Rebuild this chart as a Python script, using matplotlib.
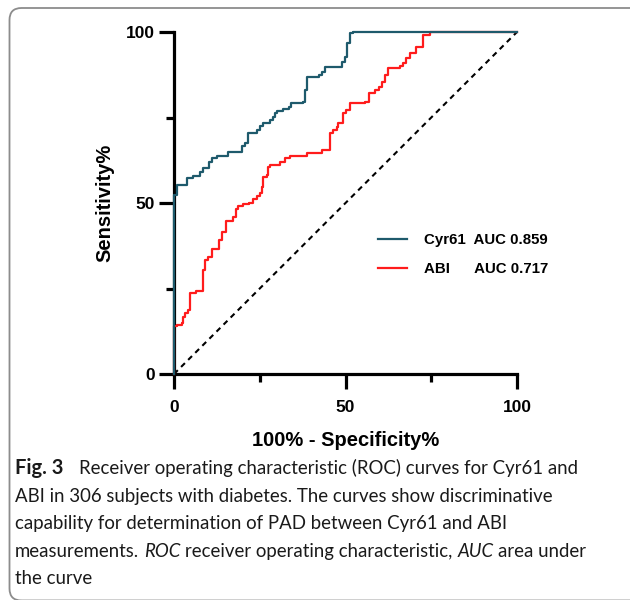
import matplotlib
matplotlib.use("Agg")
import matplotlib.pyplot as plt
from matplotlib.patches import FancyBboxPatch
from matplotlib.ticker import FixedLocator
from matplotlib.transforms import IdentityTransform

# ---------------- data ----------------
cyr61_fpr = [0, 0, 0.8, 3.8, 5.6, 7.6, 8.5, 10.3, 11.0, 12.6, 15.8, 19.7, 20.7, 21.7,
             24.1, 25.1, 25.9, 28.0, 29.0, 29.4, 30.1, 31.9, 33.6, 34.0, 37.7, 38.2,
             38.7, 42.4, 43.1, 44.0, 48.9, 49.9, 50.3, 51.3, 52.3, 100]
cyr61_tpr = [0, 52.3, 55.3, 57.2, 57.9, 59.2, 60.1, 62.1, 63.1, 63.7, 65.0, 66.7, 67.4, 70.4,
             71.3, 72.5, 73.3, 74.3, 75.2, 76.2, 77.0, 77.4, 78.0, 79.1, 79.6, 83.0,
             86.9, 87.4, 88.4, 89.9, 91.3, 92.8, 96.7, 99.6, 100, 100]

abi_fpr = [0, 0, 0.8, 2.2, 2.7, 3.2, 4.2, 4.7, 6.4, 8.5, 9.0, 10.0, 11.0, 13.2, 13.9,
           15.2, 17.3, 18.1, 18.8, 20.0, 22.0, 22.9, 24.1, 25.1, 25.6, 26.0, 27.0, 27.5,
           28.0, 30.9, 32.4, 33.8, 38.7, 43.1, 45.5, 46.4, 47.4, 47.9, 49.4, 50.1, 51.4,
           55.7, 56.9, 58.6, 59.9, 60.6, 61.5, 62.5, 65.9, 66.7, 67.6, 68.8, 70.6, 72.7,
           74.6, 100]
abi_tpr = [0, 14.0, 14.3, 14.8, 16.8, 17.9, 18.7, 23.6, 24.4, 30.4, 33.3, 34.1, 36.5, 39.2, 41.6,
           44.8, 45.8, 48.2, 49.1, 49.6, 50.1, 51.1, 52.0, 53.0, 54.8, 57.7, 58.2, 60.6,
           61.1, 62.1, 63.1, 63.7, 64.5, 65.5, 70.4, 71.3, 72.3, 73.3, 76.2, 77.3, 79.1,
           79.6, 82.3, 83.0, 84.0, 85.5, 87.4, 89.4, 90.0, 91.0, 92.3, 93.8, 95.7, 99.1,
           100, 100]

chance = [0, 100]

series_labels = ["Cyr61  AUC 0.859", "ABI      AUC 0.717"]
major_ticks = [0, 50, 100]
minor_ticks = [25, 75]
x_label = "100% - Specificity%"
y_label = "Sensitivity%"

# (text, weight, style, size scale)
caption_lines = [
    [("Fig. 3", "bold", "normal", 1.08), ("Receiver operating characteristic (ROC) curves for Cyr61 and", "normal", "normal", 1.0)],
    [("ABI in 306 subjects with diabetes. The curves show discriminative", "normal", "normal", 1.0)],
    [("capability for determination of PAD between Cyr61 and ABI", "normal", "normal", 1.0)],
    [("measurements.", "normal", "normal", 1.0), ("ROC", "normal", "italic", 1.0),
     ("receiver operating characteristic,", "normal", "normal", 1.0), ("AUC", "normal", "italic", 1.0),
     ("area under", "normal", "normal", 1.0)],
    [("the curve", "normal", "normal", 1.0)],
]
caption_gaps = [[3.3], [], [], [1, 1, 1, 1], []]

TEAL = "#1e5a6c"
RED = "#ff1c1c"

# ---------------- figure ----------------
W, H, DPI = 630, 600, 100
fig = plt.figure(figsize=(W / DPI, H / DPI), dpi=DPI)
fig.patch.set_facecolor("white")

ax = fig.add_axes([174 / W, 1 - 374 / H, (517 - 174) / W, (374 - 32) / H])
ax.plot(cyr61_fpr, cyr61_tpr, drawstyle="steps-post", color=TEAL, lw=1.6,
        clip_on=False, zorder=4, label=series_labels[0])
ax.plot(abi_fpr, abi_tpr, drawstyle="steps-post", color=RED, lw=1.6,
        clip_on=False, zorder=3, label=series_labels[1])
ax.plot(chance, chance, color="black", lw=1.5, linestyle=(0, (2.6, 2.2)),
        clip_on=False, zorder=2)

ax.set_xlim(0, 100)
ax.set_ylim(0, 100)
for s in ["top", "right"]:
    ax.spines[s].set_visible(False)
for s in ["left", "bottom"]:
    ax.spines[s].set_linewidth(2.3)
    ax.spines[s].set_capstyle("projecting")

ax.xaxis.set_major_locator(FixedLocator(major_ticks))
ax.yaxis.set_major_locator(FixedLocator(major_ticks))
ax.xaxis.set_minor_locator(FixedLocator(minor_ticks))
ax.yaxis.set_minor_locator(FixedLocator(minor_ticks))
ax.tick_params(which="major", direction="out", length=10.5, width=2.3, color="black")
ax.tick_params(which="minor", direction="out", length=5.5, width=2.3, color="black")
ax.tick_params(axis="x", which="major", pad=8.5)
ax.tick_params(axis="y", which="major", pad=3.5)
ax.set_xticklabels([str(t) for t in major_ticks])
ax.set_yticklabels([str(t) for t in major_ticks])
for lab in ax.get_xticklabels() + ax.get_yticklabels():
    lab.set_fontfamily("Liberation Sans")
    lab.set_fontweight("bold")
    lab.set_fontsize(12.5)

ax.set_xlabel(x_label, fontfamily="Liberation Sans", fontweight="bold", fontsize=14.5, labelpad=11)
ax.set_ylabel(y_label, fontfamily="Liberation Sans", fontweight="bold", fontsize=14.5, labelpad=8)

leg = ax.legend(loc="upper left", bbox_to_anchor=(378 / W, 1 - 233 / H),
                bbox_transform=fig.transFigure, frameon=False, borderpad=0,
                borderaxespad=0, handlelength=1.95, handletextpad=1.1, labelspacing=1.0,
                prop={"family": "Liberation Sans", "weight": "bold", "size": 10.8})

# ---------------- caption ----------------
cap_font = "Lato"
cap_size = 13.4
renderer = fig.canvas.get_renderer()
ident = IdentityTransform()


def text_width(s, weight, style):
    t = fig.text(0, 0, s, fontsize=cap_size, family=cap_font, fontweight=weight,
                 fontstyle=style, transform=ident)
    w = t.get_window_extent(renderer).width
    t.remove()
    return w


space_w = text_width("a a", "normal", "normal") - text_width("aa", "normal", "normal")

x0 = 15
baselines = [474, 502, 529.5, 557, 584.5]
for line, gaps, yb in zip(caption_lines, caption_gaps, baselines):
    x = x0
    for i, (s, weight, style, scale) in enumerate(line):
        t = fig.text(x, H - yb, s, fontsize=cap_size * scale, family=cap_font, fontweight=weight,
                     fontstyle=style, transform=ident, va="baseline", ha="left",
                     color="#1a1a1a")
        x += t.get_window_extent(renderer).width
        if i < len(gaps):
            x += gaps[i] * space_w

# ---------------- rounded frame ----------------
frame = FancyBboxPatch((9.5, -0.5), 660, 592.5, boxstyle="round,pad=0,rounding_size=12",
                       transform=ident, fill=False, edgecolor="#8c8c8c", lw=1.3)
fig.add_artist(frame)

fig.savefig("out.png", dpi=DPI)
